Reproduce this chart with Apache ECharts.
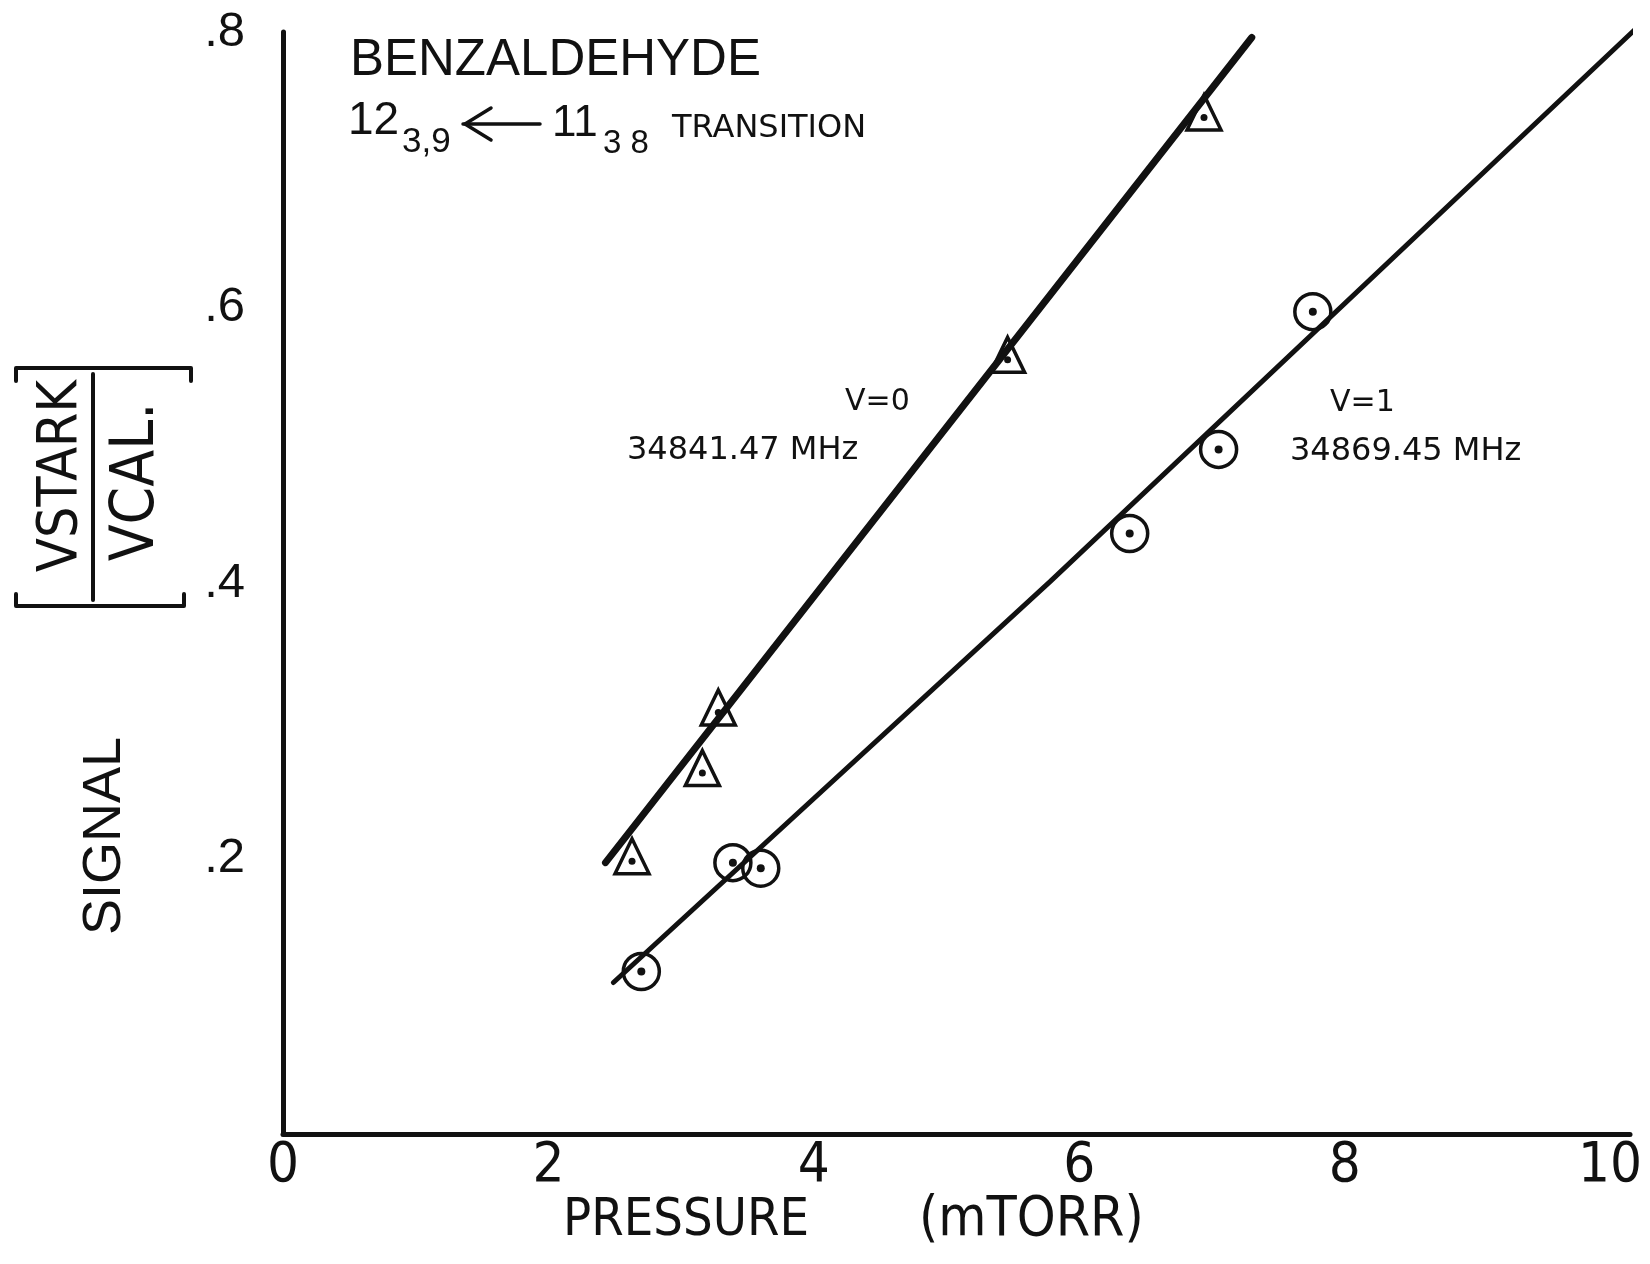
<!DOCTYPE html>
<html>
<head>
<meta charset="utf-8">
<title>Benzaldehyde Stark signal vs pressure</title>
<script src="https://cdn.jsdelivr.net/npm/echarts@6/dist/echarts.min.js"></script>
<style>
  html, body { margin: 0; padding: 0; background: #fff; }
  #chart { width: 1650px; height: 1264px; }
</style>
</head>
<body>
<div id="chart"></div>
<script>
// values (pressure in mTORR, signal ratio)
var triX = [2.63, 3.16, 3.28, 5.46, 6.94];          // v=0
var triY = [0.198, 0.262, 0.306, 0.562, 0.738];
var cirX = [2.70, 3.39, 3.60, 6.38, 7.05, 7.76];    // v=1
var cirY = [0.118, 0.197, 0.193, 0.436, 0.497, 0.597];
var fit0X = [2.43, 7.30];
var fit0Y = [0.197, 0.796];
var fit1X = [2.49, 5.78, 10.19];
var fit1Y = [0.110, 0.401, 0.802];
var xTicks = [0, 2, 4, 6, 8, 10];
var yTicks = ['.2', '.4', '.6', '.8'];

var INK = '#111';
var NARROW = "'Liberation Sans Narrow', 'DejaVu Sans Condensed', 'Liberation Sans', sans-serif";
var SANS = "'Liberation Sans', Arial, sans-serif";
var DEJA = "'DejaVu Sans', sans-serif";

function pairs(xs, ys) {
  var out = [];
  for (var i = 0; i < xs.length; i++) out.push([xs[i], ys[i]]);
  return out;
}

function txt(s, x, y, size, family, rot, align) {
  return {
    type: 'text', x: x, y: y, rotation: rot || 0, silent: true,
    style: {
      text: s, x: 0, y: 0, fill: INK, fontSize: size, fontFamily: family,
      align: align || 'left', verticalAlign: 'middle',
      textAlign: align || 'left', textVerticalAlign: 'middle'
    }
  };
}
function stroke(points, w) {
  return {
    type: 'polyline', silent: true,
    shape: { points: points },
    style: { stroke: INK, lineWidth: w, fill: null, lineCap: 'round', lineJoin: 'round' }
  };
}

var myChart = echarts.init(document.getElementById('chart'));

var hollow = { color: 'rgba(0,0,0,0)', borderColor: INK, borderWidth: 3.5, opacity: 1 };
var dot = { color: INK, opacity: 1 };

var option = {
  animation: false,
  backgroundColor: '#fff',
  grid: { left: 283, top: 32, width: 1347, height: 1102 },
  xAxis: {
    type: 'value', min: 0, max: 10.15, interval: 2,
    axisLine: { show: true, lineStyle: { color: INK, width: 5 } },
    axisTick: { show: false },
    splitLine: { show: false },
    axisLabel: {
      color: INK, fontSize: 56, fontFamily: NARROW, margin: 4,
      formatter: function (v) {
        return xTicks.indexOf(Math.round(v * 100) / 100) >= 0 ? String(v) : '';
      }
    }
  },
  yAxis: {
    type: 'value', min: 0, max: 0.8, interval: 0.2,
    axisLine: { show: true, lineStyle: { color: INK, width: 5 } },
    axisTick: { show: false },
    splitLine: { show: false },
    axisLabel: {
      color: INK, fontSize: 49, fontFamily: SANS, margin: 38,
      formatter: function (v) {
        var k = Math.round(v * 5);
        return k > 0 ? yTicks[k - 1] : '';
      }
    }
  },
  series: [
    {
      type: 'line', data: pairs(fit0X, fit0Y), symbol: 'none', clip: false, z: 2,
      lineStyle: { color: INK, width: 7, cap: 'round' }
    },
    {
      type: 'line', data: pairs(fit1X, fit1Y), symbol: 'none', clip: false, z: 2,
      lineStyle: { color: INK, width: 5, cap: 'round' }
    },
    {
      type: 'scatter', data: pairs(triX, triY), symbol: 'triangle',
      symbolSize: [34, 35], symbolOffset: [0, -5], z: 3, itemStyle: hollow
    },
    {
      type: 'scatter', data: pairs(triX, triY), symbol: 'circle', symbolSize: 7, z: 4,
      itemStyle: dot
    },
    {
      type: 'scatter', data: pairs(cirX, cirY), symbol: 'circle', symbolSize: 36, z: 3,
      itemStyle: hollow
    },
    {
      type: 'scatter', data: pairs(cirX, cirY), symbol: 'circle', symbolSize: 8, z: 4,
      itemStyle: dot
    }
  ],
  graphic: [
    // title block
    txt('BENZALDEHYDE', 350, 61, 51, SANS),
    txt('12', 348, 121, 46, SANS),
    txt('3,9', 402, 142, 35, SANS),
    stroke([[463, 124], [540, 124]], 3.5),
    stroke([[491, 108], [465, 124], [491, 140]], 3.5),
    txt('11', 552, 124, 44, SANS),
    txt('3 8', 603, 144, 33, SANS),
    txt('TRANSITION', 672, 129, 32, DEJA),
    // line labels
    txt('V=0', 845, 402, 30, DEJA),
    txt('34841.47 MHz', 627, 451, 32, DEJA),
    txt('V=1', 1330, 403, 30, DEJA),
    txt('34869.45 MHz', 1290, 452, 32, DEJA),
    // x axis name
    txt('PRESSURE', 563, 1221, 52, NARROW),
    txt('(mTORR)', 919, 1221, 55, NARROW),
    // y axis name
    txt('SIGNAL', 105, 836, 54, SANS, Math.PI / 2, 'center'),
    txt('VSTARK', 62, 476, 55, NARROW, Math.PI / 2, 'center'),
    txt('VCAL.', 137, 482, 60, NARROW, Math.PI / 2, 'center'),
    stroke([[93, 374], [93, 600]], 4),
    stroke([[16, 381], [16, 368], [191, 368], [191, 381]], 4),
    stroke([[16, 594], [16, 606], [184, 606], [184, 594]], 4)
  ]
};

if (option && typeof option === "object") {
  myChart.setOption(option, true);
}
window.onresize = function () {
  myChart.resize();
};
</script>
</body>
</html>
